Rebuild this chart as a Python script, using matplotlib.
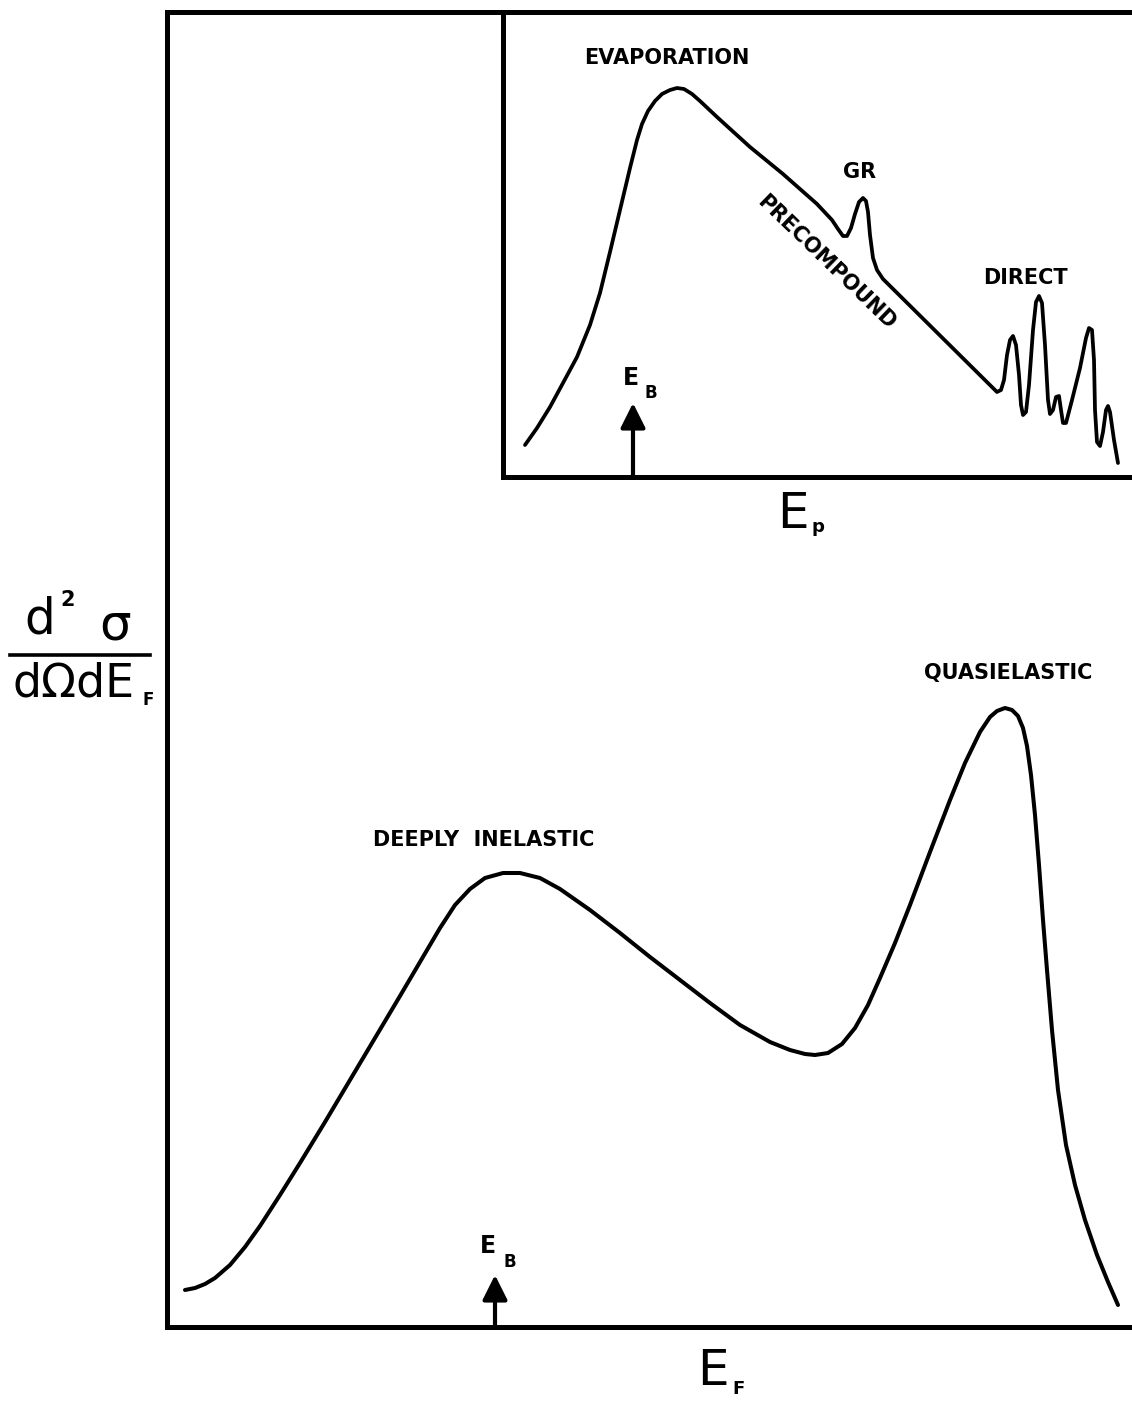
import matplotlib
matplotlib.use('Agg')
import matplotlib.pyplot as plt
from matplotlib.lines import Line2D

# ---------------- data (arbitrary units) ----------------
# main spectrum: d2sigma/dOmega dE_F versus E_F
main_E = [1.8, 2.8, 3.8, 4.8, 6.3, 7.8, 9.3, 11.3, 13.3, 15.8, 18.3, 20.8, 23.3,
          25.3, 27.3, 28.8, 30.3, 31.8, 33.6, 35.3, 37.3, 39.3, 42.3, 45.3, 48.3,
          51.3, 54.3, 57.3, 60.3, 62.3, 63.8, 64.8, 66.1, 67.5, 68.8, 70.1, 71.3,
          72.8, 74.3, 76.3, 78.3, 79.8, 81.3, 82.3, 83.0, 83.8, 84.5, 85.1, 85.6,
          86.0, 86.4, 86.8, 87.2, 87.6, 88.0, 88.5, 89.1, 89.9, 90.8, 91.8, 93.0,
          94.1, 95.1]
main_sigma = [3.7, 3.9, 4.3, 4.9, 6.2, 8.0, 10.1, 13.2, 16.4, 20.5, 24.7, 28.9, 33.1,
              36.5, 39.9, 42.2, 43.8, 44.9, 45.4, 45.4, 44.9, 43.8, 41.7, 39.4, 37.0,
              34.7, 32.4, 30.2, 28.5, 27.7, 27.3, 27.2, 27.4, 28.3, 29.9, 32.2, 34.9,
              38.4, 42.2, 47.5, 52.7, 56.4, 59.5, 61.0, 61.6, 61.9, 61.7, 61.1, 59.9,
              58.1, 55.2, 51.2, 46.2, 40.7, 35.7, 29.7, 23.7, 18.2, 14.2, 10.7, 7.2,
              4.5, 2.2]

# inset spectrum: versus E_p
inset_E = [2.2, 3.4, 4.7, 6.0, 7.4, 8.7, 9.7, 10.7, 11.7, 12.7, 13.4, 13.9, 14.5,
           15.2, 15.9, 16.7, 17.4, 18.1, 18.9, 19.7, 21.4, 24.7, 28.0, 31.4, 32.9,
           33.5, 34.0, 34.4, 34.8, 35.2, 35.6, 36.0, 36.3, 36.5, 36.7, 37.0, 37.4,
           38.0, 49.4, 49.8, 50.1, 50.4, 50.7, 51.0, 51.3, 51.6, 51.8, 52.0, 52.3,
           52.6, 53.0, 53.3, 53.6, 53.9, 54.2, 54.5, 54.7, 55.0, 55.3, 55.6, 55.8,
           56.0, 56.3, 56.9, 57.7, 58.3, 58.6, 58.9, 59.1, 59.2, 59.4, 59.7, 60.0,
           60.3, 60.5, 60.7, 61.1, 61.5]
inset_sigma = [3.2, 4.9, 7.0, 9.4, 12.0, 15.2, 18.4, 22.5, 26.7, 30.9, 33.7, 35.3, 36.6,
               37.6, 38.3, 38.7, 38.9, 38.8, 38.3, 37.6, 36.0, 33.0, 30.3, 27.3, 25.7,
               24.8, 24.1, 24.1, 24.9, 26.3, 27.5, 27.9, 27.6, 26.5, 24.2, 21.9, 20.7,
               19.8, 8.5, 8.7, 9.7, 12.2, 13.7, 14.1, 13.2, 10.2, 7.2, 6.2, 6.5,
               9.2, 14.7, 17.5, 18.1, 17.4, 13.2, 7.7, 6.3, 6.7, 8.0, 8.1, 6.7,
               5.4, 5.4, 7.7, 10.9, 13.9, 14.9, 14.7, 11.7, 6.7, 3.5, 3.1, 4.5,
               6.7, 7.1, 6.5, 3.7, 1.4]

EB_main = 32.8
EB_main_tip = 5.2
EB_inset = 13.0
EB_inset_tip = 7.4

# ---------------- figure ----------------
W, H = 1132, 1405
fig = plt.figure(figsize=(W / 100, H / 100), dpi=100)
fig.patch.set_facecolor('white')


def fx(px):
    return px / W


def fy(py):
    return 1 - py / H


def style_axes(a, lw, xmax, ymax):
    a.set_xlim(0, xmax)
    a.set_ylim(0, ymax)
    a.set_xticks([])
    a.set_yticks([])
    for s in ['left', 'bottom', 'top']:
        a.spines[s].set_linewidth(lw)
        a.spines[s].set_color('black')
        a.spines[s].set_capstyle('projecting')
    a.spines['right'].set_visible(False)


ax = fig.add_axes([fx(167), fy(1327), fx(1140) - fx(167), fy(12) - fy(1327)])
style_axes(ax, 3.6, 97.3, 131.5)
ax.plot(main_E, main_sigma, color='black', lw=2.9,
        solid_joinstyle='round', solid_capstyle='round')
ax.annotate('', xy=(EB_main, EB_main_tip), xytext=(EB_main, 0),
            arrowprops=dict(arrowstyle='-|>,head_length=1.0,head_width=0.5',
                            lw=3, color='black', mutation_scale=15,
                            shrinkA=0, shrinkB=0))

axi = fig.add_axes([fx(503), fy(477), fx(1140) - fx(503), fy(12) - fy(477)])
style_axes(axi, 3.6, 63.7, 46.5)
axi.set_zorder(2)
axi.plot(inset_E, inset_sigma, color='black', lw=2.7,
         solid_joinstyle='round', solid_capstyle='round')
axi.annotate('', xy=(EB_inset, EB_inset_tip), xytext=(EB_inset, 0),
             arrowprops=dict(arrowstyle='-|>,head_length=1.0,head_width=0.5',
                             lw=3, color='black', mutation_scale=15,
                             shrinkA=0, shrinkB=0))

# ---------------- labels ----------------
lab = dict(ha='center', va='center', fontweight='bold', family='DejaVu Sans', color='black')


def t(px, py, s, size, **kw):
    d = dict(lab)
    d.update(kw)
    fig.text(fx(px), fy(py), s, fontsize=size, **d)


t(667, 58, 'EVAPORATION', 15)
t(860, 172, 'GR', 15)
t(826, 262, 'PRECOMPOUND', 15, rotation=-44, rotation_mode='anchor')
t(1025, 278, 'DIRECT', 15)
t(484, 840, 'DEEPLY  INELASTIC', 15)
t(1008, 673, 'QUASIELASTIC', 15)

# E_B labels
t(631, 378, 'E', 17)
t(651, 393, 'B', 12)
t(488, 1246, 'E', 17)
t(510, 1262, 'B', 12)

# axis labels
t(793, 514, 'E', 36, fontweight='normal')
t(818, 527, 'p', 13)
t(713, 1371, 'E', 36, fontweight='normal')
t(739, 1389, 'F', 13)

# y label as a fraction
t(40, 620, 'd', 35, fontweight='normal')
t(68, 600, '2', 15)
t(115, 626, 'σ', 36, fontweight='normal')
fig.add_artist(Line2D([fx(10), fx(150)], [fy(655), fy(655)],
                      transform=fig.transFigure, color='black', lw=2.6))
t(74, 684, 'dΩdE', 33, fontweight='normal')
t(148, 700, 'F', 12)

fig.savefig('out.png', dpi=100, facecolor='white')
